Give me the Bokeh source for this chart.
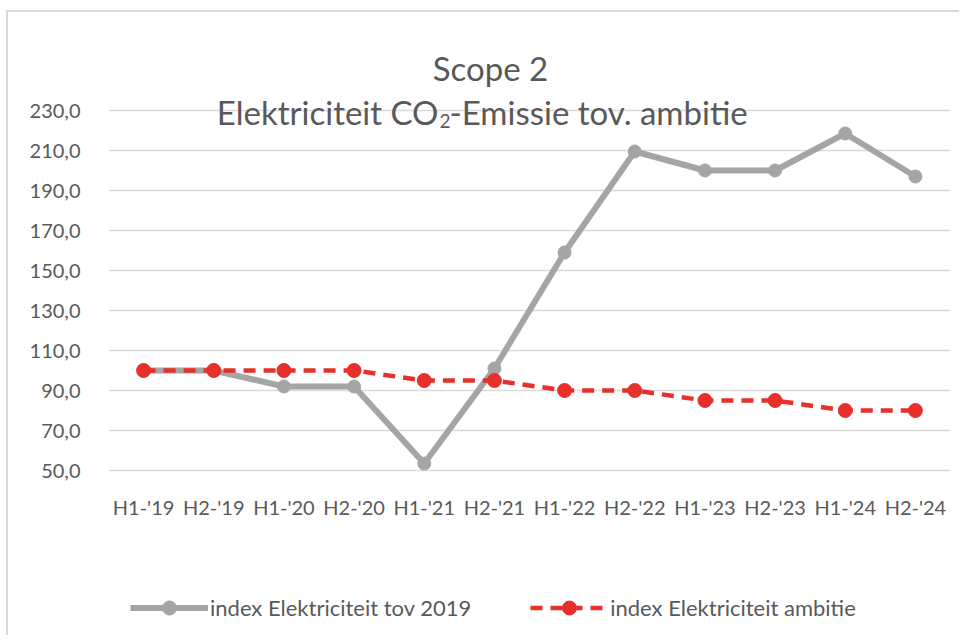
from bokeh.plotting import figure
from bokeh.models import FactorRange, Range1d, FixedTicker, Label, Legend, LegendItem
from bokeh.embed import file_html
from bokeh.resources import INLINE

categories = ["H1-'19", "H2-'19", "H1-'20", "H2-'20", "H1-'21", "H2-'21",
              "H1-'22", "H2-'22", "H1-'23", "H2-'23", "H1-'24", "H2-'24"]
index_tov_2019 = [100, 100, 92, 92, 53.5, 101, 159, 209.5, 200, 200, 218.5, 197]
index_ambitie = [100, 100, 100, 100, 95, 95, 90, 90, 85, 85, 80, 80]
y_ticks = [50, 70, 90, 110, 130, 150, 170, 190, 210, 230]
y_tick_labels = ["50,0", "70,0", "90,0", "110,0", "130,0", "150,0",
                 "170,0", "190,0", "210,0", "230,0"]
title_line1 = "Scope 2"
title_line2_parts = ["Elektriciteit CO", "2", "-Emissie tov. ambitie"]
series_names = ["index Elektriciteit tov 2019", "index Elektriciteit ambitie"]

FONT = "Lato"
TXT = "#595959"
GRAY = "#A5A5A5"
RED = "#E8302A"

# frame spans the full canvas height so that title and legend (drawn inside) are not clipped
p = figure(width=953, height=625, x_range=FactorRange(*categories, range_padding=0),
           y_range=Range1d(-33.5, 279), output_backend="svg", toolbar_location=None,
           min_border_left=100, min_border_right=11, min_border_top=0,
           min_border_bottom=0)
p.outline_line_color = None
p.background_fill_color = "white"
p.border_fill_color = "white"
p.xgrid.grid_line_color = None
p.ygrid.grid_line_color = "#D9D9D9"
p.ygrid.grid_line_width = 1.5
p.ygrid.ticker = FixedTicker(ticks=y_ticks)

p.yaxis.ticker = FixedTicker(ticks=y_ticks)
p.yaxis.major_label_overrides = {t: l for t, l in zip(y_ticks, y_tick_labels)}
p.xaxis.fixed_location = y_ticks[0]
for ax in (p.xaxis[0], p.yaxis[0]):
    ax.axis_line_color = None
    ax.major_tick_line_color = None
    ax.minor_tick_line_color = None
    ax.major_label_text_font = FONT
    ax.major_label_text_font_size = "20px"
    ax.major_label_text_color = TXT
p.yaxis.major_label_standoff = 22
p.xaxis.major_label_standoff = 18

l1 = p.line(categories, index_tov_2019, line_color=GRAY, line_width=6, line_join="round")
s1 = p.scatter(categories, index_tov_2019, size=13, fill_color=GRAY, line_color=GRAY)
l2 = p.line(categories, index_ambitie, line_color=RED, line_width=4.5, line_dash="12 8")
s2 = p.scatter(categories, index_ambitie, size=14, fill_color=RED, line_color=RED)

def title_label(x, y, text, size, align):
    return Label(x=x, y=y, x_units="screen", y_units="screen", text=text,
                 text_font=FONT, text_font_size=size, text_color=TXT,
                 text_align=align, text_baseline="alphabetic")

p.add_layout(title_label(382, 570, title_line1, "33px", "center"))
p.add_layout(title_label(330, 526, title_line2_parts[0], "33px", "right"))
p.add_layout(title_label(331, 517, title_line2_parts[1], "19px", "left"))
p.add_layout(title_label(341, 526, title_line2_parts[2], "33px", "left"))

legend = Legend(items=[LegendItem(label=series_names[0], renderers=[l1, s1]),
                       LegendItem(label=series_names[1], renderers=[l2, s2])],
                orientation="horizontal", location=(22, 12),
                glyph_width=78, glyph_height=35, label_height=35, label_standoff=2,
                spacing=59, padding=0, margin=0,
                label_text_font=FONT, label_text_font_size="22px", label_text_color=TXT,
                border_line_color=None, background_fill_alpha=0)
p.add_layout(legend, "center")

p.styles = {"margin-left": "6px", "margin-top": "10px",
            "border-left": "2px solid #D9D9D9", "border-top": "2px solid #D9D9D9"}

open("out.html", "w").write(file_html(p, INLINE))
